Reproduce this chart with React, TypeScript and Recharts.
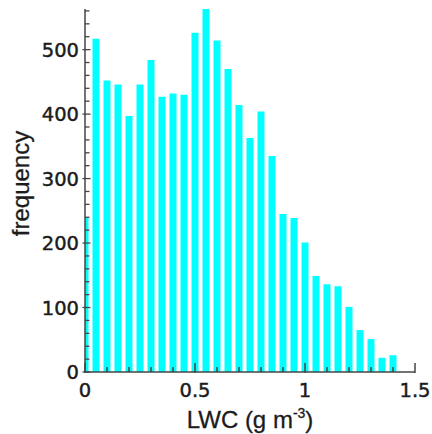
import React from 'react';
import { BarChart, Bar, XAxis, YAxis } from 'recharts';

// LWC bin centres (g m^-3) and counts
const lwcBins = [0, 0.05, 0.1, 0.15, 0.2, 0.25, 0.3, 0.35, 0.4, 0.45, 0.5, 0.55, 0.6, 0.65, 0.7, 0.75, 0.8, 0.85, 0.9, 0.95, 1.0, 1.05, 1.1, 1.15, 1.2, 1.25, 1.3, 1.35, 1.4];
const frequencies = [240, 517, 452, 446, 397, 446, 484, 427, 432, 430, 526, 563, 514, 470, 414, 363, 404, 335, 245, 239, 201, 149, 136, 133, 101, 65, 51, 22, 26];

const xTicks = [0, 0.1, 0.2, 0.3, 0.4, 0.5, 0.6, 0.7, 0.8, 0.9, 1.0, 1.1, 1.2, 1.3, 1.4, 1.5];
const xMajorTicks = [0, 0.5, 1, 1.5];
const xTickLabels = ['0', '0.5', '1', '1.5'];

const yTicks = [0, 20, 40, 60, 80, 100, 120, 140, 160, 180, 200, 220, 240, 260, 280, 300, 320, 340, 360, 380, 400, 420, 440, 460, 480, 500, 520, 540, 560];
const yMajorTicks = [0, 100, 200, 300, 400, 500];
const yTickLabels = ['0', '100', '200', '300', '400', '500'];

const data = lwcBins.map((b, i) => ({ lwc: b, freq: frequencies[i] }));

const AXIS = '#454545';
const TEXT = '#1c1c1c';
const TICK_FONT = '"DejaVu Sans", sans-serif';
const LABEL_FONT = '"Liberation Sans", Arial, sans-serif';

const XTick = (props: any) => {
  const { x, y, payload } = props;
  const v = payload.value;
  const idx = xMajorTicks.findIndex((m) => Math.abs(m - v) < 1e-6);
  const major = idx >= 0;
  return (
    <g>
      <line x1={x} x2={x} y1={y + (major ? 1 : 0)} y2={y - (major ? 9 : 5)} stroke={AXIS} strokeWidth={1.5} />
      {major && (
        <text x={x} y={y + 25} textAnchor="middle" fontSize={19.5} fontFamily={TICK_FONT} fill={TEXT} stroke={TEXT} strokeWidth={0.45}>
          {xTickLabels[idx]}
        </text>
      )}
    </g>
  );
};

const YTick = (props: any) => {
  const { x, y, payload } = props;
  const v = payload.value;
  const idx = yMajorTicks.findIndex((m) => Math.abs(m - v) < 1e-6);
  const major = idx >= 0;
  return (
    <g>
      <line x1={x - (major ? 2.5 : 0)} x2={x + (major ? 5.5 : 4.5)} y1={y} y2={y} stroke={AXIS} strokeWidth={1.3} />
      {major && (
        <text x={x - 6} y={y + 7} textAnchor="end" fontSize={19.5} fontFamily={TICK_FONT} fill={TEXT} stroke={TEXT} strokeWidth={0.45}>
          {yTickLabels[idx]}
        </text>
      )}
    </g>
  );
};

const XLabel = (props: any) => {
  const vb = props.viewBox || {};
  const cx = vb.x + vb.width / 2;
  return (
    <text x={cx} y={vb.y + 56} textAnchor="middle" fontSize={24} fontFamily={LABEL_FONT} fill={TEXT} stroke={TEXT} strokeWidth={0.3}>
      LWC (g m
      <tspan dy={-10} fontSize={14}>-3</tspan>
      <tspan dy={10}>)</tspan>
    </text>
  );
};

const YLabel = (props: any) => {
  const vb = props.viewBox || {};
  const cy = vb.y + vb.height / 2 - 7;
  return (
    <text
      transform={`translate(29, ${cy}) rotate(-90)`}
      x={0}
      y={0}
      textAnchor="middle"
      fontSize={24}
      fontFamily={LABEL_FONT}
      fill={TEXT}
      stroke={TEXT}
      strokeWidth={0.3}
    >
      frequency
    </text>
  );
};

export default function App() {
  return (
    <div style={{ position: 'absolute', left: 0, top: 0, background: '#fff' }}>
      <BarChart width={432} height={434} data={data} margin={{ top: 9, right: 17, bottom: 0, left: 0 }}>
        <Bar dataKey="freq" fill="#00FFFF" barSize={7} isAnimationActive={false} />
        <XAxis
          dataKey="lwc"
          type="number"
          domain={[0, 1.5]}
          allowDataOverflow
          ticks={xTicks}
          interval={0}
          height={62}
          tickSize={0}
          tickMargin={0}
          tickLine={false}
          tick={<XTick />}
          axisLine={{ stroke: AXIS, strokeWidth: 1.5 }}
          label={{ content: <XLabel /> }}
        />
        <YAxis
          type="number"
          domain={[0, 563]}
          allowDataOverflow
          ticks={yTicks}
          interval={0}
          width={85}
          tickSize={0}
          tickMargin={0}
          tickLine={false}
          tick={<YTick />}
          axisLine={{ stroke: AXIS, strokeWidth: 1.5 }}
          label={{ content: <YLabel /> }}
        />
      </BarChart>
    </div>
  );
}
